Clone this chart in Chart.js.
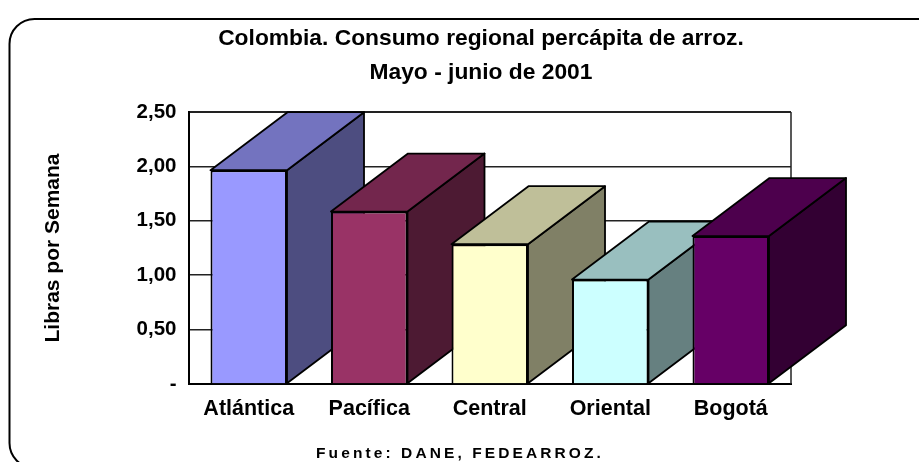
<!DOCTYPE html>
<html><head><meta charset="utf-8">
<style>html,body{margin:0;padding:0;background:#fff}#w{width:919px;height:462px;position:relative}</style>
<script src="https://cdn.jsdelivr.net/npm/chart.js@4"></script></head>
<body><div id="w"><canvas id="c"></canvas></div>
<script>
const categories = ['Atlántica','Pacífica','Central','Oriental','Bogotá'];
const consumo = [1.965,1.585,1.285,0.96,1.36];
const yTickLabels = ['-','0,50','1,00','1,50','2,00','2,50'];
const titleLines = ['Colombia. Consumo regional percápita de arroz.','Mayo - junio de 2001'];
const yTitle = 'Libras por Semana';
const sourceNote = 'Fuente: DANE, FEDEARROZ.';
const frontColors = ['#9999FF','#993366','#FFFFCC','#CCFFFF','#660066'];
const topColors = ['#7373BF','#73264D','#BFBF99','#99BFBF','#4D004D'];
const sideColors = ['#4D4D80','#4D1A33','#808066','#668080','#330033'];
const DEPTH_X = 77, DEPTH_Y = 58;
const FONT = '"Liberation Sans", Arial, sans-serif';

const decor = {
  id:'decor',
  afterLayout(chart){
    const t = chart.titleBlock;
    t.left = 43; t.right = 919; t.width = 876;
  },
  beforeDraw(chart){
    const ctx = chart.ctx;
    ctx.save();
    ctx.strokeStyle = '#000'; ctx.lineWidth = 2;
    ctx.beginPath(); ctx.roundRect(9.5,19,950,449,25); ctx.stroke();
    ctx.restore();
  },
  beforeDatasetsDraw(chart){
    const ctx = chart.ctx, a = chart.chartArea;
    ctx.save();
    ctx.strokeStyle = '#222'; ctx.lineWidth = 1.5;
    ctx.beginPath(); ctx.moveTo(a.right,a.top); ctx.lineTo(a.right,a.bottom); ctx.stroke();
    ctx.lineJoin = 'round'; ctx.lineWidth = 1.8; ctx.strokeStyle = '#000';
    chart.getDatasetMeta(0).data.forEach((bar,i)=>{
      const l = bar.x-bar.width/2, r = bar.x+bar.width/2, t = bar.y, b = bar.base;
      const face = (pts,col)=>{
        ctx.fillStyle = col; ctx.beginPath();
        pts.forEach((p,j)=> j?ctx.lineTo(p[0],p[1]):ctx.moveTo(p[0],p[1]));
        ctx.closePath(); ctx.fill(); ctx.stroke();
      };
      face([[r,t],[r+DEPTH_X,t-DEPTH_Y],[r+DEPTH_X,b-DEPTH_Y],[r,b]],sideColors[i]);
      face([[l,t],[l+DEPTH_X,t-DEPTH_Y],[r+DEPTH_X,t-DEPTH_Y],[r,t]],topColors[i]);
      bar.draw(ctx);
    });
    ctx.restore();
    return false;
  },
  afterDraw(chart){
    const ctx = chart.ctx;
    ctx.save();
    ctx.font = 'bold 15.5px '+FONT; ctx.fillStyle = '#000';
    ctx.textAlign = 'center'; ctx.textBaseline = 'middle';
    ctx.letterSpacing = '3.1px';
    ctx.fillText(sourceNote,460,454);
    ctx.restore();
  }
};

new Chart(document.getElementById('c'),{
  type:'bar',
  data:{labels:categories,datasets:[{data:consumo,backgroundColor:frontColors,borderColor:'#000',borderWidth:2,barPercentage:0.635,categoryPercentage:1}]},
  plugins:[decor],
  options:{
    responsive:true,maintainAspectRatio:false,animation:false,
    layout:{padding:{top:0,left:41,right:128,bottom:0}},
    plugins:{
      legend:{display:false},tooltip:{enabled:false},
      title:{display:true,text:titleLines,color:'#000',align:'center',
        font:{family:FONT,size:22.8,weight:'bold',lineHeight:34/22.8},
        padding:{top:22,bottom:22}}
    },
    scales:{
      x:{
        afterFit(s){s.height=78;},
        grid:{display:false,drawTicks:false},
        border:{display:true,color:'#000',width:2},
        ticks:{color:'#000',padding:12,maxRotation:0,autoSkip:false,font:{family:FONT,size:21.5,weight:'bold'}}
      },
      y:{
        min:0,max:2.5,
        afterFit(s){s.width=147.5;},
        grid:{color:'#222',lineWidth:c=>c.index===5?2:1.5,drawTicks:false},
        border:{display:true,color:'#000',width:2},
        title:{display:true,text:yTitle,color:'#000',font:{family:FONT,size:21,weight:'bold'},padding:{top:0,bottom:0}},
        ticks:{color:'#000',padding:12,stepSize:0.5,autoSkip:false,font:{family:FONT,size:20.5,weight:'bold'},
          callback:(v,i)=>yTickLabels[i]}
      }
    }
  }
});
</script></body></html>
